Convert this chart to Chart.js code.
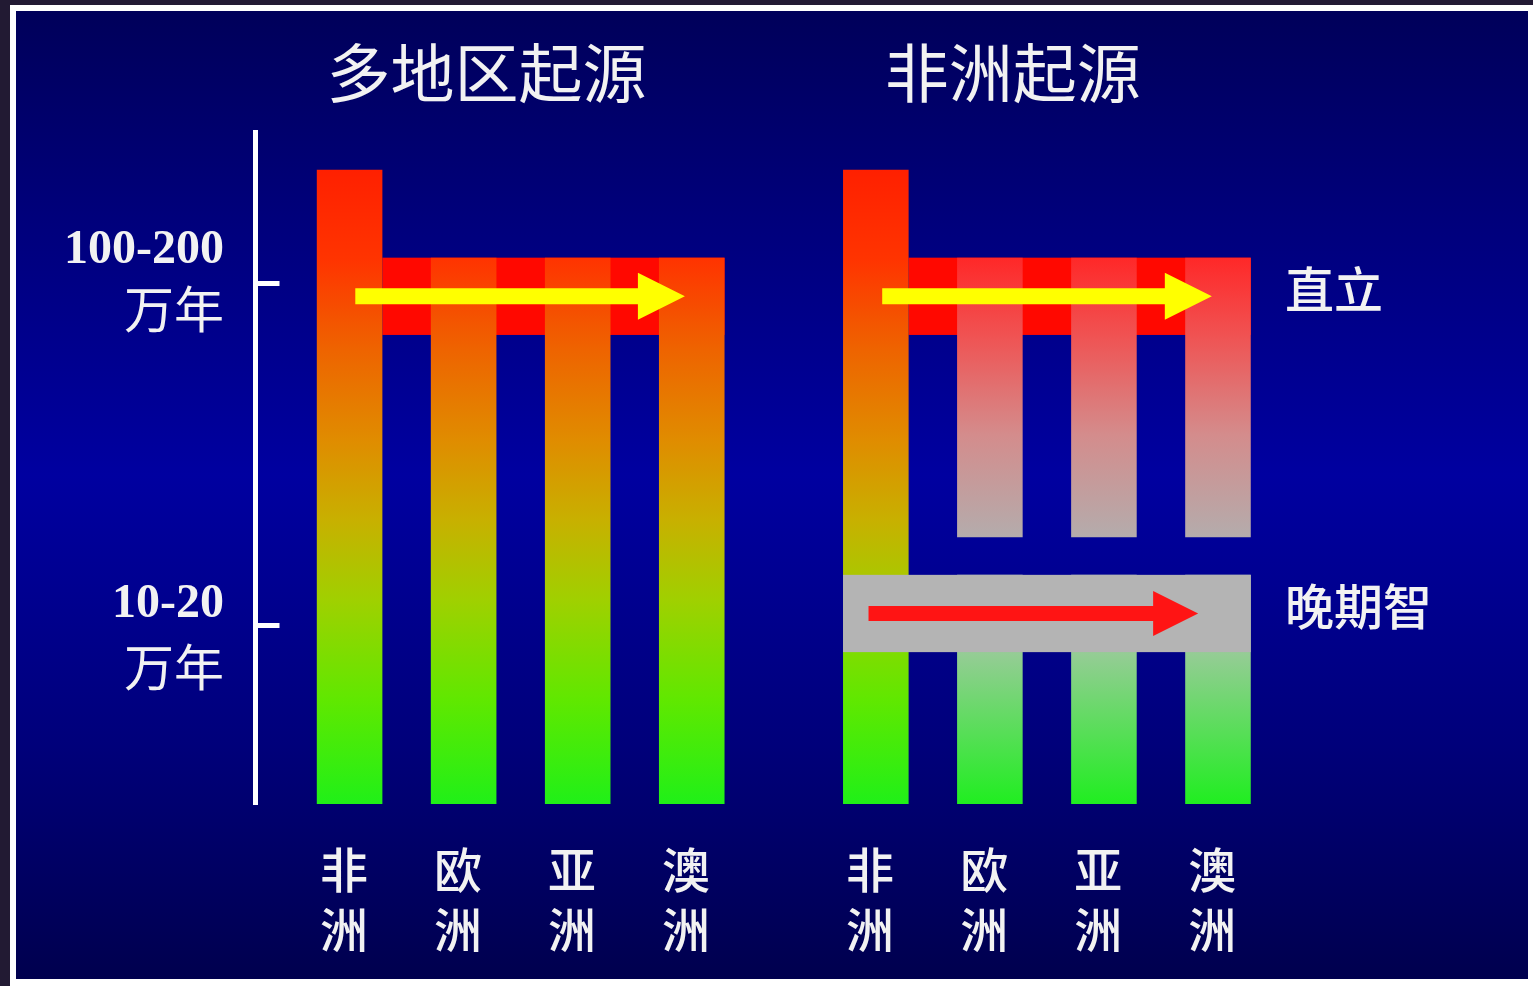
<!DOCTYPE html>
<html><head><meta charset="utf-8">
<script src="https://cdn.jsdelivr.net/npm/chart.js@4"></script>
<style>
html,body{margin:0;padding:0;background:#ffffff;width:1533px;height:986px;overflow:hidden;}
#frameTop{position:absolute;left:0;top:0;width:1533px;height:5px;background:#221a33;}
#frameLeft{position:absolute;left:0;top:0;width:10px;height:986px;background:#221a33;}
#panel{position:absolute;left:16px;top:11px;width:1512px;height:968px;
  background:linear-gradient(to bottom,#00005a 0%,#00007c 22%,#0000a0 48%,#00007a 76%,#00004e 100%);}
#c{position:absolute;left:0;top:0;}
</style></head><body>
<div id="frameTop"></div><div id="frameLeft"></div><div id="panel"></div>
<canvas id="c" width="1533" height="986"></canvas>
<script>
// ---------------- data ----------------
const regions = ['非洲', '欧洲', '亚洲', '澳洲'];
const models = ['多地区起源', '非洲起源'];
// time axis: relative position (0 = present at the foot of the axis, 100 = top of axis)
const timeTicks = [77.5, 26.6];
const timeTickLabels = [['100-200', '万年'], ['10-20', '万年']];
// multiregional model: one continuous lineage per region
const multiStart = [0, 0, 0, 0];
const multiEnd = [94.4, 81.3, 81.3, 81.3];
// out-of-Africa model: Africa lineage
const africaStart = [0];
const africaEnd = [94.4];
// out-of-Africa model: erectus lineages outside Africa (Europe, Asia, Australia)
const erectusStart = [39.7, 39.7, 39.7];
const erectusEnd = [81.3, 81.3, 81.3];
// out-of-Africa model: late sapiens lineages outside Africa
const sapiensStart = [0, 0, 0];
const sapiensEnd = [34.1, 34.1, 34.1];
// migration events
const speciesNames = ['直立', '晚期智'];
const erectusBand = [69.8, 81.3];
const sapiensBand = [22.6, 34.1];
const arrowStart = [0.05, 4.67, 4.55];
const arrowEnd = [2.94, 7.56, 7.44];

// ---------------- layout / style ----------------
const GROUP_GAP = 0.614;
const BAR_FRAC = 0.575;
const pos = (m, i) => m * (regions.length + GROUP_GAP) + i;
const TXT = '#f2f2f2';
const CJK = '"Noto Sans CJK SC", "Noto Sans", sans-serif';
const SERIF = '"Liberation Serif", "Noto Sans CJK SC", serif';

const gradMain = [[94.4,'#ff2000'],[81,'#ff3400'],[67.5,'#ee6400'],[54.2,'#e08c00'],[42.3,'#c8b000'],[30.4,'#a0d000'],[15.5,'#60e800'],[0,'#20f018']];
const gradErectus = [[81.3,'#ff2828'],[69.8,'#f05252'],[55,'#d48c8c'],[39.7,'#b4acac']];
const gradSapiens = [[34.1,'#aec4ae'],[22.6,'#96cc96'],[0,'#20ee20']];

function makeGrad(chart, stops) {
  const ys = chart.scales.y;
  if (!ys || !chart.chartArea) return stops[0][1];
  const y0 = ys.getPixelForValue(stops[0][0]);
  const y1 = ys.getPixelForValue(stops[stops.length - 1][0]);
  const g = chart.ctx.createLinearGradient(0, y0, 0, y1);
  stops.forEach(([v, c]) => g.addColorStop(Math.min(1, Math.max(0, (ys.getPixelForValue(v) - y0) / (y1 - y0))), c));
  return g;
}
const colData = (starts, ends, m, off) => starts.map((s, i) => ({x: pos(m, i + off), y: [s, ends[i]]}));
const barCommon = {type: 'bar', grouped: false, categoryPercentage: 1, barPercentage: BAR_FRAC,
  borderWidth: 0, xAxisID: 'x', yAxisID: 'y'};

function drawArrow(ctx, x0, x1, yc, color, sh, hh, hl) {
  ctx.fillStyle = color;
  ctx.beginPath();
  ctx.moveTo(x0, yc - sh);
  ctx.lineTo(x1 - hl, yc - sh);
  ctx.lineTo(x1 - hl, yc - hh);
  ctx.lineTo(x1, yc);
  ctx.lineTo(x1 - hl, yc + hh);
  ctx.lineTo(x1 - hl, yc + sh);
  ctx.lineTo(x0, yc + sh);
  ctx.closePath();
  ctx.fill();
}

const diagram = {
  id: 'diagram',
  beforeDatasetsDraw(chart) {
    const {ctx, scales: {x, y}} = chart;
    const half = BAR_FRAC / 2;
    ctx.save();
    ctx.fillStyle = '#ff0800';
    models.forEach((m, mi) => {
      const x0 = x.getPixelForValue(pos(mi, 0) + half);
      const x1 = x.getPixelForValue(pos(mi, regions.length - 1) + half);
      const y0 = y.getPixelForValue(erectusBand[1]);
      const y1 = y.getPixelForValue(erectusBand[0]);
      ctx.fillRect(x0, y0, x1 - x0, y1 - y0);
    });
    ctx.restore();
  },
  afterDatasetsDraw(chart) {
    const {ctx, scales: {x, y}} = chart;
    const half = BAR_FRAC / 2;
    ctx.save();
    ctx.fillStyle = '#b4b4b4';
    const gx0 = x.getPixelForValue(pos(1, 0) - half);
    const gx1 = x.getPixelForValue(pos(1, regions.length - 1) + half);
    const gy0 = y.getPixelForValue(sapiensBand[1]);
    const gy1 = y.getPixelForValue(sapiensBand[0]);
    ctx.fillRect(gx0, gy0, gx1 - gx0, gy1 - gy0);
    const eMid = (erectusBand[0] + erectusBand[1]) / 2;
    const sMid = (sapiensBand[0] + sapiensBand[1]) / 2;
    const arrowY = [eMid, eMid, sMid];
    const arrowCol = ['#ffff00', '#ffff00', '#ff1414'];
    arrowStart.forEach((a, i) => {
      const big = i < 2;
      drawArrow(ctx, x.getPixelForValue(a), x.getPixelForValue(arrowEnd[i]), y.getPixelForValue(arrowY[i]),
        arrowCol[i], big ? 8 : 7.5, big ? 23.5 : 22.5, big ? 47 : 45);
    });
    ctx.restore();
  }
};

// offsets (axis units) of the two text lines of each time label relative to its tick
const LINE_OFF = [[4.9, -3.9], [3.1, -6.2]];

new Chart(document.getElementById('c'), {
  data: {
    datasets: [
      Object.assign({}, barCommon, {label: models[0], data: colData(multiStart, multiEnd, 0, 0),
        backgroundColor: c => makeGrad(c.chart, gradMain)}),
      Object.assign({}, barCommon, {label: models[1] + ' 非洲', data: colData(africaStart, africaEnd, 1, 0),
        backgroundColor: c => makeGrad(c.chart, gradMain)}),
      Object.assign({}, barCommon, {label: speciesNames[0], data: colData(erectusStart, erectusEnd, 1, 1),
        backgroundColor: c => makeGrad(c.chart, gradErectus)}),
      Object.assign({}, barCommon, {label: speciesNames[1], data: colData(sapiensStart, sapiensEnd, 1, 1),
        backgroundColor: c => makeGrad(c.chart, gradSapiens)})
    ]
  },
  options: {
    responsive: false,
    animation: false,
    layout: {padding: {left: 20, right: 71, top: 0, bottom: 0}},
    plugins: {legend: {display: false}, tooltip: {enabled: false}},
    scales: {
      x: {
        type: 'linear', axis: 'x', position: 'bottom', min: -0.825, max: 8.0, offset: false, bounds: 'data',
        grid: {display: false, drawTicks: false}, border: {display: false},
        afterBuildTicks: s => {
          s.ticks = models.flatMap((m, mi) => regions.map((r, i) => ({value: pos(mi, i) - 0.05, text: r.split('')})));
        },
        afterFit: s => { s.height = 182; },
        ticks: {autoSkip: false, maxRotation: 0, minRotation: 0, padding: 36, color: TXT,
          font: {family: CJK, size: 48, weight: '500', lineHeight: 1.25},
          callback: (v, i, t) => t[i].text}
      },
      xTop: {
        type: 'linear', axis: 'x', position: 'top', min: -0.825, max: 8.0, offset: false, bounds: 'data',
        grid: {display: false, drawTicks: false}, border: {display: false},
        afterBuildTicks: s => {
          s.ticks = models.map((m, mi) => ({value: pos(mi, (regions.length - 1) / 2) - 0.3, text: m}));
        },
        afterFit: s => { s.height = 132; },
        ticks: {autoSkip: false, maxRotation: 0, minRotation: 0, padding: 21, color: TXT,
          font: {family: CJK, size: 64, weight: 'normal'},
          callback: (v, i, t) => t[i].text}
      },
      y: {
        type: 'linear', axis: 'y', position: 'left', min: 0, max: 100, bounds: 'data',
        border: {display: true, color: '#ffffff', width: 5},
        grid: {display: true, drawOnChartArea: false, drawTicks: true, tickLength: -24, tickWidth: 5,
          tickColor: c => (c.tick && c.tick.kind === 'mark') ? '#ffffff' : 'rgba(0,0,0,0)'},
        afterBuildTicks: s => {
          const t = [];
          timeTicks.forEach((v, i) => {
            t.push({value: v, kind: 'mark', text: ''});
            t.push({value: v + LINE_OFF[i][0], kind: 'num', text: timeTickLabels[i][0]});
            t.push({value: v + LINE_OFF[i][1], kind: 'cjk', text: timeTickLabels[i][1]});
          });
          t.sort((a, b) => a.value - b.value);
          s.ticks = t;
        },
        afterFit: s => { s.width = 235.5; },
        ticks: {autoSkip: false, padding: 55.5, color: TXT,
          font: c => (c.tick && c.tick.kind === 'num')
            ? {family: SERIF, size: 48, weight: 'bold'}
            : {family: CJK, size: 50, weight: 'normal'},
          callback: (v, i, t) => t[i].text}
      },
      y2: {
        type: 'linear', axis: 'y', position: 'right', min: 0, max: 100, bounds: 'data',
        border: {display: false}, grid: {display: false, drawTicks: false},
        afterBuildTicks: s => {
          s.ticks = [
            {value: (sapiensBand[0] + sapiensBand[1]) / 2 + 1.1, text: speciesNames[1]},
            {value: (erectusBand[0] + erectusBand[1]) / 2 + 1.05, text: speciesNames[0]}
          ];
        },
        afterFit: s => { s.width = 200; },
        ticks: {autoSkip: false, padding: 23, color: TXT,
          font: {family: CJK, size: 49, weight: '500'},
          callback: (v, i, t) => t[i].text}
      }
    }
  },
  plugins: [diagram]
});
</script>
</body></html>
